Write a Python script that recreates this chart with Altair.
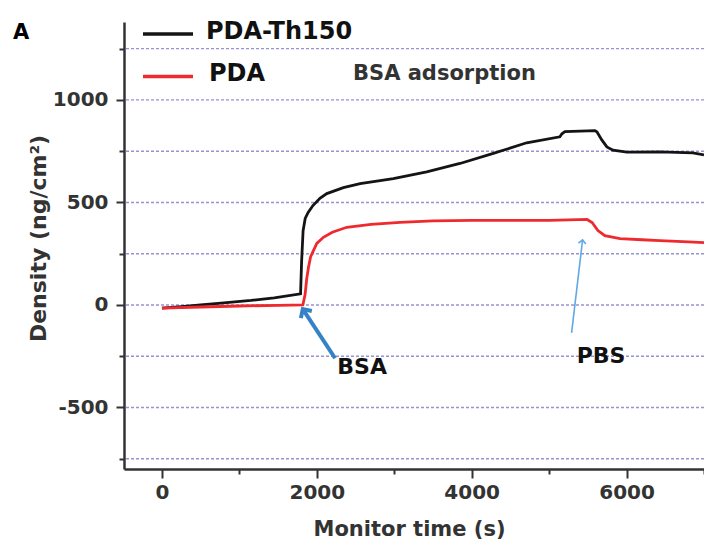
import altair as alt
import pandas as pd

# ---- data ----
series_names = ["PDA-Th150", "PDA"]
series_colors = ["#141414", "#ef2a2e"]

th_t = [0, 250, 500, 800, 1150, 1450, 1790, 1804, 1823, 1850, 1888, 1950, 2040, 2129,
        2343, 2559, 2988, 3419, 3849, 4279, 4710, 5139, 5165, 5204, 5400, 5591, 5617,
        5680, 5746, 5824, 6004, 6430, 6856, 7000]
th_y = [-15, -8, 0, 10, 22, 35, 54, 216, 363, 422, 451, 485, 520, 543,
        572, 592, 616, 649, 690, 739, 791, 820, 835, 845, 848, 850, 845,
        805, 771, 755, 745, 747, 742, 732]

pda_t = [0, 500, 1000, 1500, 1820, 1849, 1870, 1892, 1920, 1956, 2000, 2085, 2200,
         2387, 2700, 3075, 3500, 4000, 4500, 5000, 5490, 5555, 5630, 5720, 5915,
         6200, 6430, 6800, 7000]
pda_y = [-15, -10, -5, -2, 0, 52, 130, 183, 235, 265, 300, 330, 355,
         379, 393, 403, 410, 413, 413, 413, 417, 402, 363, 338, 324,
         318, 314, 308, 304]

x_ticks = [0, 1000, 2000, 3000, 4000, 5000, 6000, 7000]
y_ticks = [-750, -625, -500, -375, -250, -125, 0, 125, 250, 375, 500, 625, 750,
           875, 1000, 1125, 1250, 1375]
grid_vals = [-750, -500, -250, 0, 250, 500, 750, 1000, 1250]

# annotations (data coordinates)
ann_labels = ["BSA", "PBS"]
ann_text_t = [2585, 5670]
ann_text_y = [-304, -250]
arrow_tail_t = [2236, 5290]
arrow_tail_y = [-260, -136]
arrow_tip_t = [1819, 5432]
arrow_tip_y = [-20, 317]
arrow_angle = [327, 7]
arrow_color = ["#3583c6", "#62a8e2"]
arrow_width = [4, 1.6]
arrow_size = [170, 55]

FONT = "DejaVu Sans"

lines_df = pd.concat([
    pd.DataFrame({"t": th_t, "d": th_y, "s": series_names[0]}),
    pd.DataFrame({"t": pda_t, "d": pda_y, "s": series_names[1]}),
])
ann_df = pd.DataFrame({
    "label": ann_labels, "tt": ann_text_t, "ty": ann_text_y,
    "t0": arrow_tail_t, "y0": arrow_tail_y, "t1": arrow_tip_t, "y1": arrow_tip_y,
    "ang": arrow_angle, "col": arrow_color, "w": arrow_width, "sz": arrow_size,
})
grid_df = pd.DataFrame({"g": grid_vals})

xscale = alt.Scale(domain=[-490, 7000], nice=False, zero=False)
yscale = alt.Scale(domain=[-800, 1380], nice=False, zero=False)

xaxis = alt.Axis(
    values=x_ticks,
    labelExpr="datum.value % 2000 === 0 ? '' + datum.value : ''",
    tickSize={"condition": {"test": "datum.value % 2000 === 0", "value": 9}, "value": 5},
    tickWidth=2, tickColor="#333", domainColor="#333", domainWidth=2.5,
    labelFont=FONT, labelFontWeight="bold", labelFontSize=20, labelColor="#333",
    labelPadding=4, grid=False,
    title="Monitor time (s)", titleFont=FONT, titleFontWeight="bold", titleFontSize=21,
    titleColor="#333", titleBaseline="middle", titleX=285, titleY=60,
)
yaxis = alt.Axis(
    values=y_ticks,
    labelExpr="datum.value % 500 === 0 ? '' + datum.value : ''",
    tickSize={"condition": {"test": "datum.value % 500 === 0", "value": 8}, "value": 5},
    tickWidth=2, tickColor="#333", domainColor="#333", domainWidth=2.5,
    labelFont=FONT, labelFontWeight="bold", labelFontSize=20, labelColor="#333",
    labelPadding=8, labelOverlap=False, grid=False,
    title="Density (ng/cm²)", titleFont=FONT, titleFontWeight="bold", titleFontSize=22,
    titleColor="#333", titleAngle=270, titleBaseline="middle", titleX=-86, titleY=216,
)

grid = alt.Chart(grid_df).mark_rule(
    color="#8580cc", strokeWidth=1.4, strokeDash=[3, 2], opacity=0.85
).encode(y=alt.Y("g:Q", scale=yscale, axis=yaxis))

lines = alt.Chart(lines_df).mark_line(strokeWidth=2.8, interpolate="linear").encode(
    x=alt.X("t:Q", scale=xscale, axis=xaxis),
    y=alt.Y("d:Q", scale=yscale, axis=yaxis),
    color=alt.Color("s:N", scale=alt.Scale(domain=series_names, range=series_colors), legend=None),
    detail="s:N",
)

arrows = alt.Chart(ann_df).mark_rule().encode(
    x=alt.X("t0:Q", scale=xscale), y=alt.Y("y0:Q", scale=yscale),
    x2="t1:Q", y2="y1:Q",
    color=alt.Color("col:N", scale=None),
    strokeWidth=alt.StrokeWidth("w:Q", scale=None),
)
heads = alt.Chart(ann_df).mark_point(
    shape="M -1 1 L 0 0 L 1 1", filled=False
).encode(
    x=alt.X("t1:Q", scale=xscale), y=alt.Y("y1:Q", scale=yscale),
    angle=alt.Angle("ang:Q", scale=None),
    color=alt.Color("col:N", scale=None),
    strokeWidth=alt.StrokeWidth("w:Q", scale=None),
    size=alt.Size("sz:Q", scale=None),
    opacity=alt.value(1),
)
ann_text = alt.Chart(ann_df).mark_text(
    font=FONT, fontWeight="bold", fontSize=22, color="#111", align="center", baseline="middle"
).encode(
    x=alt.X("tt:Q", scale=xscale), y=alt.Y("ty:Q", scale=yscale), text="label:N"
)

# custom legend (top-left inside plot)
leg_layers = []
leg_rows_y = [12, 54.5]
leg_text_x = [82, 85]
for i, name in enumerate(series_names):
    one = pd.DataFrame({"s": [name]})
    leg_layers.append(alt.Chart(one).mark_rule(strokeWidth=3.5, color=series_colors[i]).encode(
        x=alt.value(19), x2=alt.value(69), y=alt.value(leg_rows_y[i])))
    leg_layers.append(alt.Chart(one).mark_text(
        font=FONT, fontWeight="bold", fontSize=24, color="#111", align="left", baseline="middle"
    ).encode(x=alt.value(leg_text_x[i]), y=alt.value(leg_rows_y[i] - 2.5), text="s:N"))

subtitle = alt.Chart(pd.DataFrame({"txt": ["BSA adsorption"]})).mark_text(
    font=FONT, fontWeight="bold", fontSize=21, color="#333", align="left", baseline="middle"
).encode(x=alt.value(229), y=alt.value(52), text="txt:N")

panel = alt.Chart(pd.DataFrame({"txt": ["A"]})).mark_text(
    font=FONT, fontWeight="bold", fontSize=21, color="#000", align="left", baseline="middle"
).encode(x=alt.value(-111), y=alt.value(11), text="txt:N")

chart = alt.layer(grid, lines, arrows, heads, ann_text, subtitle, panel, *leg_layers).properties(
    width=580, height=447,
    autosize=alt.AutoSizeParams(type="none"),
    padding={"left": 116, "top": 14, "right": 0, "bottom": 74},
).configure_view(stroke=None)

chart.save("out.html", embed_options={"renderer": "svg", "actions": False})
